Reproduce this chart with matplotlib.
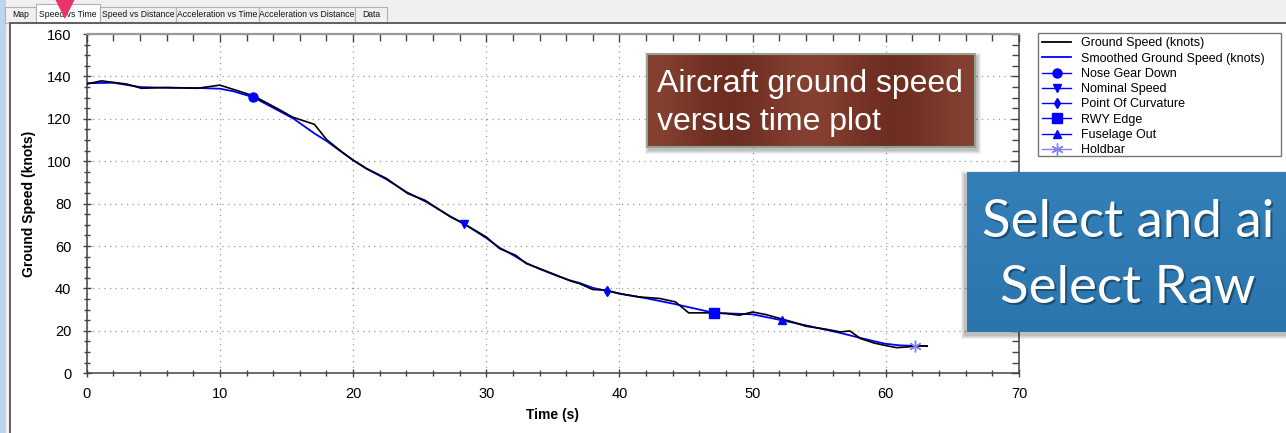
import numpy as np
import matplotlib
matplotlib.use("Agg")
import matplotlib.pyplot as plt
from matplotlib.lines import Line2D
from matplotlib.patches import Rectangle, Polygon
from matplotlib.ticker import MultipleLocator

plt.rcParams['font.family'] = ['Liberation Sans', 'DejaVu Sans']

# ---- data -------------------------------------------------------------
time_raw = [0, 1.1, 3.0, 4.1, 6.0, 8.3, 10.0, 11.0, 12.5, 14.3, 15.5, 17.1,
            18.0, 19.0, 20.0, 21.0, 22.5, 24.1, 25.4, 27.3, 28.3, 30.0, 31.0,
            32.2, 33.0, 34.0, 35.3, 36.3, 37.0, 38.0, 39.0, 40.0, 41.5, 43.0,
            44.2, 45.2, 46.8, 48.0, 49.0, 50.0, 51.0, 53.0, 54.0, 55.5, 56.6,
            57.3, 58.1, 59.1, 59.9, 60.8, 61.6, 62.2, 63.1]
speed_raw = [136.4, 137.9, 136.4, 134.4, 134.8, 134.4, 135.9, 133.9, 130.9,
             124.9, 120.7, 117.4, 110.3, 105.2, 100.5, 96.6, 91.9, 84.8, 81.6,
             73.8, 70.6, 64.3, 58.8, 55.7, 51.8, 49.4, 46.2, 43.6, 42.3, 39.5,
             39.2, 37.6, 36.0, 35.3, 33.7, 28.5, 28.5, 28.2, 27.4, 28.9, 27.7,
             24.2, 22.2, 20.8, 19.5, 20.0, 16.4, 14.3, 13.2, 12.1, 12.4, 12.9,
             12.9]

time_smooth = [0, 2, 4, 6, 8, 10, 11, 12.5, 14, 15.5, 17.1, 18, 19, 20, 21,
               22.5, 24, 25.5, 27.3, 28.3, 30, 31, 32, 33, 34, 35.3, 36.3, 37,
               38, 39.1, 40.3, 42, 44.2, 47.1, 50, 52.2, 54, 56.6, 58, 59.9,
               61, 62.2, 63.1]
speed_smooth = [136.8, 137.0, 135.0, 134.6, 134.6, 134.2, 133.0, 130.2, 125.2,
                120.2, 113.1, 109.6, 105.0, 100.5, 96.5, 91.5, 85.5, 80.8,
                74.0, 70.6, 63.8, 59.2, 55.8, 52.0, 49.2, 46.0, 43.8, 42.6,
                40.3, 38.8, 37.2, 35.4, 32.6, 28.5, 27.8, 25.0, 22.6, 19.0,
                16.8, 14.0, 13.2, 12.9, 12.8]

event_names = ["Nose Gear Down", "Nominal Speed", "Point Of Curvature",
               "RWY Edge", "Fuselage Out", "Holdbar"]
event_times = [12.5, 28.3, 39.1, 47.1, 52.2, 62.2]
event_speeds = [130.4, 70.6, 38.8, 28.5, 25.0, 12.9]
event_markers = ['o', 'v', 'd', 's', '^', (6, 2, 0)]
event_colors = ['#0000ff', '#0000ff', '#0000ff', '#0000ff', '#0000ff', '#8080ff']
event_sizes = [6.5, 6, 5.5, 6.5, 6, 8.5]

tab_names = ["Map", "Speed vs Time", "Speed vs Distance", "Acceleration vs Time",
             "Acceleration vs Distance", "Data"]
tab_edges = [5, 36, 100, 176, 259, 355, 387]

W, H = 1286, 433
fig = plt.figure(figsize=(W / 100, H / 100), dpi=100)
fig.patch.set_facecolor('white')

# ---- window chrome (pixel coordinates) --------------------------------
bg = fig.add_axes([0, 0, 1, 1], zorder=0)
bg.set_xlim(0, W)
bg.set_ylim(H, 0)
bg.axis('off')
bg.add_patch(Rectangle((0, 0), W, 23, facecolor='#f0f0f0', edgecolor='none'))
bg.add_patch(Rectangle((0, 0), 6, H, facecolor='#bcd4ec', edgecolor='none'))
bg.add_patch(Rectangle((6, 23), 3, H, facecolor='#f0f0f0', edgecolor='none'))
bg.plot([9.5, 9.5], [22.5, H], color='#606060', lw=1.4)
bg.plot([9.5, W], [22.5, 22.5], color='#606060', lw=1.4)
for i, name in enumerate(tab_names):
    x0, x1 = tab_edges[i], tab_edges[i + 1]
    sel = (i == 1)
    top = 4 if sel else 7
    bg.add_patch(Rectangle((x0, top), x1 - x0, 22.5 - top,
                           facecolor='white' if sel else '#f0f0f0',
                           edgecolor='#b0b0b0', lw=0.8))
    bg.text((x0 + x1) / 2, 14.5, name, fontsize=6.2, ha='center',
            va='center', color='#111111')

# legend frame
bg.add_patch(Rectangle((1038, 33), 243, 123, facecolor='white',
                       edgecolor='#777777', lw=1.0))

# ---- chart ------------------------------------------------------------
x0p, x1p, y0p, y1p = 86.7, 1019.0, 373.3, 34.0
ax = fig.add_axes([x0p / W, 1 - y0p / H, (x1p - x0p) / W, (y0p - y1p) / H],
                  zorder=1)
ax.set_xlim(0, 70)
ax.set_ylim(0, 160)
ax.xaxis.set_major_locator(MultipleLocator(10))
ax.xaxis.set_minor_locator(MultipleLocator(2))
ax.yaxis.set_major_locator(MultipleLocator(20))
ax.yaxis.set_minor_locator(MultipleLocator(5))
ax.grid(True, which='major', color='#9a9a9a', lw=0.9, linestyle=(0, (1, 3.5)))
ax.set_axisbelow(True)
for side in ['left', 'bottom', 'right']:
    ax.spines[side].set_color('#444444')
    ax.spines[side].set_linewidth(1.1)
ax.spines['top'].set_color('#9a9a9a')
ax.spines['top'].set_linewidth(1.6)
ax.tick_params(which='both', direction='inout', color='#444444', width=1.0,
               labelsize=10.5, top=True, right=True)
ax.tick_params(which='major', length=6)
ax.tick_params(which='minor', length=5)
ax.tick_params(axis='x', which='major', pad=7)
ax.tick_params(axis='y', which='major', pad=8)
for t in ax.xaxis.get_major_ticks() + ax.xaxis.get_minor_ticks():
    t.tick2line.set_marker(3)
for t in ax.yaxis.get_major_ticks() + ax.yaxis.get_minor_ticks():
    t.tick2line.set_marker(0)

ax.plot(time_smooth, speed_smooth, color='#0000ff', lw=1.3, zorder=3)
ax.plot(time_raw, speed_raw, color='black', lw=1.2, zorder=4)
for t, v, m, c, s in zip(event_times, event_speeds, event_markers,
                         event_colors, event_sizes):
    ax.plot([t], [v], marker=m, color=c, markersize=s, linestyle='none',
            markeredgewidth=1.0, zorder=5)

ax.set_xlabel("Time (s)", fontsize=10, fontweight='bold')
ax.set_ylabel("Ground Speed (knots)", fontsize=10, fontweight='bold')
ax.xaxis.set_label_coords(0.5, (y0p - 408) / (y0p - y1p))
ax.yaxis.set_label_coords((36 - x0p) / (x1p - x0p), 0.5)

# ---- legend -----------------------------------------------------------
handles = [Line2D([], [], color='black', lw=1.3),
           Line2D([], [], color='#0000ff', lw=1.3)]
labels = ["Ground Speed (knots)", "Smoothed Ground Speed (knots)"]
for n, m, c, s in zip(event_names, event_markers, event_colors, event_sizes):
    handles.append(Line2D([], [], color=c, lw=1.0, marker=m,
                          markersize=s, markeredgewidth=1.0))
    labels.append(n)
leg = fig.legend(handles, labels, loc='upper left',
                 bbox_to_anchor=(1038 / W, 1 - 33 / H),
                 bbox_transform=fig.transFigure, fontsize=9, frameon=False,
                 borderaxespad=0, handlelength=2.3, handletextpad=0.8,
                 labelspacing=0.26, borderpad=0.35)

# ---- overlaid callouts ------------------------------------------------
ov = fig.add_axes([0, 0, 1, 1], zorder=10)
ov.set_xlim(0, W)
ov.set_ylim(H, 0)
ov.axis('off')
ov.patch.set_alpha(0)

# pointer arrow over the active tab
ov.add_patch(Polygon([[55, -1], [75, -1], [65, 19]], closed=True,
                     facecolor='#e8336b', edgecolor='none'))

# soft shadows
for k, a in enumerate([0.06, 0.06, 0.07, 0.08]):
    d = 4 - k
    ov.add_patch(Rectangle((647 + 2 - d, 54 + 3 - d), 328 + 2 * d, 93 + 2 * d,
                           facecolor='black', alpha=a, edgecolor='none'))
    ov.add_patch(Rectangle((967 - 2 - d, 172 + 3 - d), 330 + 2 * d, 160 + 2 * d,
                           facecolor='black', alpha=a, edgecolor='none'))

# brown box with a horizontal sheen
grad = np.linspace(0, 1, 256)
sheen = 0.5 + 0.5 * np.cos(grad * 2 * np.pi * 2.0)
brown_dark = np.array([0.43, 0.18, 0.13])
brown_light = np.array([0.52, 0.25, 0.19])
img = brown_dark[None, :] + (brown_light - brown_dark)[None, :] * sheen[:, None]
ov.imshow(img[None, :, :], extent=(647, 975, 147, 54), aspect='auto',
          zorder=2, interpolation='bilinear')
ov.add_patch(Rectangle((647, 54), 328, 93, facecolor='none',
                       edgecolor='#8ea394', lw=1.5, zorder=3))
ov.text(657, 92, "Aircraft ground speed", fontsize=23, color='white',
        ha='left', va='baseline', zorder=4)
ov.text(657, 130, "versus time plot", fontsize=23, color='white',
        ha='left', va='baseline', zorder=4)

# blue box
vert = np.linspace(0, 1, 64)
blue_top = np.array([0.20, 0.50, 0.72])
blue_bot = np.array([0.17, 0.46, 0.68])
bimg = blue_top[None, :] + (blue_bot - blue_top)[None, :] * vert[:, None]
ov.imshow(bimg[:, None, :], extent=(967, 1290, 332, 172), aspect='auto',
          zorder=2, interpolation='bilinear')
for txt, x, y in [("Select and ai", 982, 236.7), ("Select Raw", 1000, 303)]:
    ov.text(x + 1.5, y + 2, txt, fontsize=38, color='black', alpha=0.35,
            family=['Lato', 'DejaVu Sans'], ha='left', va='baseline', zorder=3)
    ov.text(x, y, txt, fontsize=38, color='white',
            family=['Lato', 'DejaVu Sans'], ha='left', va='baseline', zorder=4)
ov.set_xlim(0, W)
ov.set_ylim(H, 0)

fig.savefig("out.png", dpi=100)
